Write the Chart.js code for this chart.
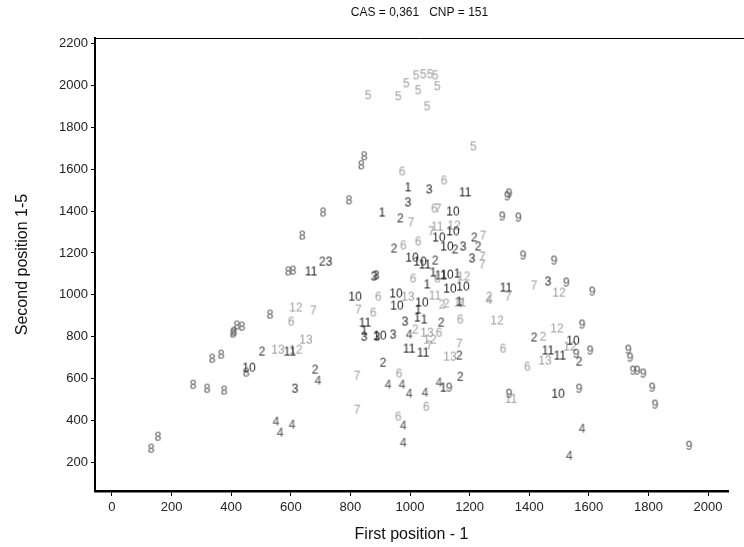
<!DOCTYPE html>
<html>
<head>
<meta charset="utf-8">
<script src="https://cdn.jsdelivr.net/npm/chart.js@4.4.0/dist/chart.umd.min.js"></script>
<style>
  html, body { margin: 0; padding: 0; background: #fff; }
</style>
</head>
<body>
<canvas id="chart" width="744" height="547"></canvas>
<script>
const xTicks = [0, 200, 400, 600, 800, 1000, 1200, 1400, 1600, 1800, 2000];
const yTicks = [200, 400, 600, 800, 1000, 1200, 1400, 1600, 1800, 2000, 2200];
const titleText = 'CAS = 0,361   CNP = 151';

// each point is [first position - 1, second position 1-5], drawn as its class number
const s1 = [[993,1513],[906,1393],[1077,1107],[1057,1050],[1024,892],[1047,883],[1027,930],[846,830],[1111,558],[1158,1102],[1165,968]];
const s2 = [[967,1365],[946,1221],[1084,1164],[1151,1217],[1215,1274],[1228,1231],[705,1159],[503,730],[681,644],[1104,868],[909,677],[1168,610],[1165,711],[1416,797],[1567,682]];
const s2grey = [[1107,954],[1121,959],[1446,801],[1017,835],[1265,992]];
const s3 = [[1064,1503],[993,1441],[1178,1231],[1208,1174],[728,1159],[879,1088],[886,1093],[983,873],[846,801],[943,811],[614,553],[1463,1064],[889,801]];
const s4 = [[550,396],[564,343],[604,381],[691,591],[926,572],[973,572],[997,529],[1050,534],[1097,582],[977,377],[977,295],[997,811],[1577,362],[1534,233]];
const s4grey = [[1265,975]];
const s5 = [[859,1952],[960,1947],[987,2009],[1027,1976],[1057,1899],[1091,1995],[1020,2047],[1044,2052],[1067,2052],[1084,2047],[1212,1708]];
const s6 = [[973,1589],[1114,1546],[1081,1412],[977,1236],[1027,1255],[1010,1078],[1091,1078],[893,992],[876,916],[601,873],[1168,883],[1097,820],[963,625],[1054,467],[960,420],[1312,744],[1393,658]];
const s7 = [[1094,1412],[1003,1346],[1071,1303],[1245,1283],[1242,1183],[1242,1145],[675,926],[826,930],[822,615],[822,453],[1064,758],[1165,768],[1171,959],[1416,1045],[1329,992]];
const s8 = [[131,267],[154,324],[272,572],[319,553],[376,544],[336,696],[366,715],[450,630],[409,825],[419,854],[436,849],[406,816],[530,906],[591,1112],[607,1116],[638,1283],[708,1393],[795,1451],[836,1618],[846,1661]];
const s9 = [[1332,1484],[1326,1470],[1309,1374],[1363,1369],[1379,1188],[1483,1164],[1524,1059],[1611,1016],[1577,859],[1604,735],[1557,720],[1732,739],[1738,701],[1748,639],[1762,639],[1782,625],[1812,558],[1822,477],[1936,281],[1332,529],[1567,553],[1131,558]];
const s10 = [[1144,1398],[1097,1274],[1144,1303],[1124,1231],[1007,1178],[1034,1159],[1124,1097],[1134,1030],[1178,1040],[816,992],[953,1007],[956,949],[1040,964],[899,806],[460,653],[1547,782],[1497,529]];
const s11 = [[1185,1489],[1050,1145],[1104,1093],[668,1112],[597,730],[849,868],[997,744],[1044,725],[1322,1035],[1463,735],[1503,711]];
const s11grey = [[1084,997],[1168,964],[1339,505],[1091,1326]];
const s12 = [[1148,1331],[1180,1088],[617,739],[617,940],[1292,878],[1500,1011],[1493,840],[1537,754],[1067,787]];
const s13 = [[557,739],[651,787],[993,992],[1057,820],[1134,706],[1453,687]];

const BLACK = '#1c1c1c', DARK = '#505050', GREY = '#9d9d9d';
const FONT = '"Liberation Sans", Arial, sans-serif';

function glyph(text, color) {
  const c = document.createElement('canvas');
  const ctx = c.getContext('2d');
  const font = '12px ' + FONT;
  ctx.font = font;
  const w = Math.ceil(ctx.measureText(text).width) + 2;
  c.width = w; c.height = 14;
  ctx.font = font;
  ctx.fillStyle = color;
  ctx.textAlign = 'center';
  ctx.textBaseline = 'middle';
  ctx.fillText(text, w / 2, 7.5);
  return c;
}

const series = [
  ['1', s1, BLACK], ['2', s2, '#333'], ['2', s2grey, GREY], ['3', s3, BLACK],
  ['4', s4, DARK], ['4', s4grey, GREY], ['5', s5, GREY], ['6', s6, GREY],
  ['7', s7, GREY], ['8', s8, DARK], ['9', s9, DARK], ['10', s10, BLACK],
  ['11', s11, BLACK], ['11', s11grey, GREY], ['12', s12, GREY], ['13', s13, GREY]
];

// top frame line and the title centred over the plot box
const frame = {
  id: 'frame',
  afterDraw(chart) {
    const { ctx, chartArea } = chart;
    ctx.save();
    ctx.strokeStyle = '#000';
    ctx.lineWidth = 1;
    ctx.beginPath();
    ctx.moveTo(chartArea.left, chartArea.top + 0.5);
    ctx.lineTo(chart.width, chartArea.top + 0.5);
    ctx.stroke();
    ctx.fillStyle = '#111';
    ctx.font = '12px ' + FONT;
    ctx.textAlign = 'center';
    ctx.textBaseline = 'middle';
    ctx.fillText(titleText, (chartArea.left + chart.width) / 2, 13);
    ctx.restore();
  }
};

new Chart(document.getElementById('chart'), {
  type: 'scatter',
  data: {
    datasets: series.map(([name, pts, color]) => ({
      label: name,
      data: pts.map(p => ({ x: p[0], y: p[1] })),
      pointStyle: glyph(name, color),
      pointRadius: 6
    }))
  },
  options: {
    responsive: false,
    animation: false,
    layout: { padding: { top: 38, right: 16, bottom: 0, left: 0 } },
    plugins: {
      legend: { display: false },
      tooltip: { enabled: false }
    },
    scales: {
      x: {
        type: 'linear',
        min: -57,
        max: 2067,
        afterBuildTicks: s => { s.ticks = xTicks.map(v => ({ value: v })); },
        afterFit: s => { s.height = 56; },
        border: { display: true, color: '#000', width: 2.5 },
        grid: { drawOnChartArea: false, drawTicks: true, tickLength: 5, tickColor: '#000' },
        ticks: { color: '#222', padding: 4, callback: v => String(v), font: { family: FONT, size: 13 } },
        title: {
          display: true,
          text: 'First position - 1',
          color: '#111',
          font: { family: FONT, size: 16 },
          padding: { top: 0, bottom: 3 }
        }
      },
      y: {
        type: 'linear',
        min: 65,
        max: 2225,
        afterBuildTicks: s => { s.ticks = yTicks.map(v => ({ value: v })); },
        afterFit: s => { s.width = 95; },
        border: { display: true, color: '#000', width: 2 },
        grid: { drawOnChartArea: false, drawTicks: true, tickLength: 4, tickColor: '#000' },
        ticks: { color: '#222', padding: 3, callback: v => String(v), font: { family: FONT, size: 13 } },
        title: {
          display: true,
          text: 'Second position 1-5',
          color: '#111',
          font: { family: FONT, size: 16 },
          padding: { top: 13, bottom: 0 }
        }
      }
    }
  },
  plugins: [frame]
});
</script>
</body>
</html>
